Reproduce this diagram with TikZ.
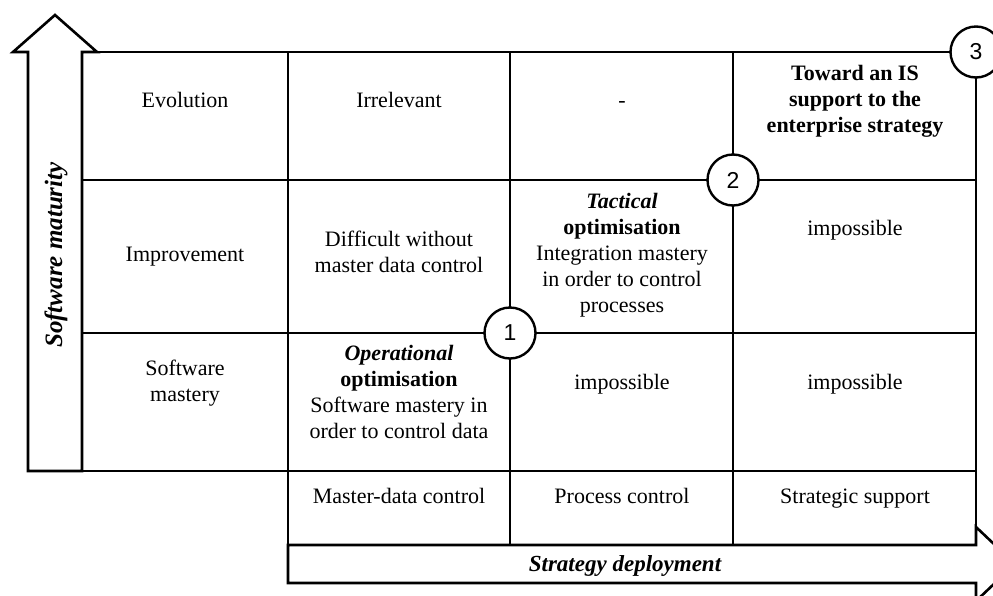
\documentclass[tikz,border=0pt]{standalone}
\usepackage{fontspec}
\setmainfont{Liberation Serif}
\newfontfamily\numfont{Liberation Sans}
\begin{document}
\begin{tikzpicture}[x=1pt,y=-1pt,
 thk/.style={line width=2.6pt},
 thn/.style={line width=1.1pt},
 txt/.style={align=center, font=\fontsize{22}{26}\selectfont, inner sep=0pt,
   execute at begin node=\strut, execute at end node=\strut},
 num/.style={circle, draw, fill=white, line width=2.4pt, minimum size=51pt, inner sep=0pt, font=\numfont\fontsize{23}{23}\selectfont}]
\useasboundingbox (0,0) rectangle (993,595);
\clip (0,0) rectangle (993,595);
% left column thin lines
\draw[thn] (82,52) -- (288,52) (82,180) -- (288,180) (82,333) -- (288,333) (82,471) -- (288,471);
% vertical arrow
\draw[thk, line join=miter, fill=white] (28,471) -- (28,52) -- (13,52) -- (55,15) -- (97,52) -- (82,52) -- (82,471) -- cycle;
% bottom row thin lines
\draw[thn] (288,471) -- (288,545) (510,471) -- (510,545) (733,471) -- (733,545) (976,471) -- (976,545);
% main grid
\draw[thk] (288,52) rectangle (976,471);
\draw[thk] (510,52) -- (510,471) (733,52) -- (733,471) (288,180) -- (976,180) (288,333) -- (976,333);
% horizontal arrow
\draw[thk, line join=miter, fill=white] (288,545) -- (976,545) -- (976,527) -- (1015,564) -- (976,601) -- (976,583) -- (288,583) -- cycle;
% circles
\node[num] (c1) at (510,333) {1};
\node[num] (c2) at (733,180) {2};
\node[num] (c3) at (976,52) {3};
% axis labels
\node[txt, font=\fontsize{25}{26}\selectfont\bfseries\itshape, rotate=90] (ymat) at (57,255) {Software maturity};
\node[txt, font=\fontsize{23}{26}\selectfont\bfseries\itshape] (xdep) at (625,566) {Strategy deployment};
% row labels
\node[txt] (r3) at (185,102) {Evolution};
\node[txt] (r2) at (185,256) {Improvement};
\node[txt] (r1) at (185,385) {Software\\mastery};
% column labels
\node[txt] (k1) at (399,498) {Master-data control};
\node[txt] (k2) at (622,498) {Process control};
\node[txt] (k3) at (855,498) {Strategic support};
% row 3 cells
\node[txt] (a31) at (399,102) {Irrelevant};
\node[txt] (a32) at (622,102) {-};
\node[txt, font=\fontsize{22}{26}\selectfont\bfseries] (a33) at (855,103) {Toward an IS\\support to the\\enterprise strategy};
% row 2 cells
\node[txt] (a21) at (399,256) {Difficult without\\master data control};
\node[txt] (a22) at (622,257) {\textbf{\textit{Tactical}}\\\textbf{optimisation}\\Integration mastery\\in order to control\\processes};
\node[txt] (a23) at (855,230) {impossible};
% row 1 cells
\node[txt] (a11) at (399,396) {\textbf{\textit{Operational}}\\\textbf{optimisation}\\Software mastery in\\order to control data};
\node[txt] (a12) at (622,384) {impossible};
\node[txt] (a13) at (855,384) {impossible};
\end{tikzpicture}
\end{document}
